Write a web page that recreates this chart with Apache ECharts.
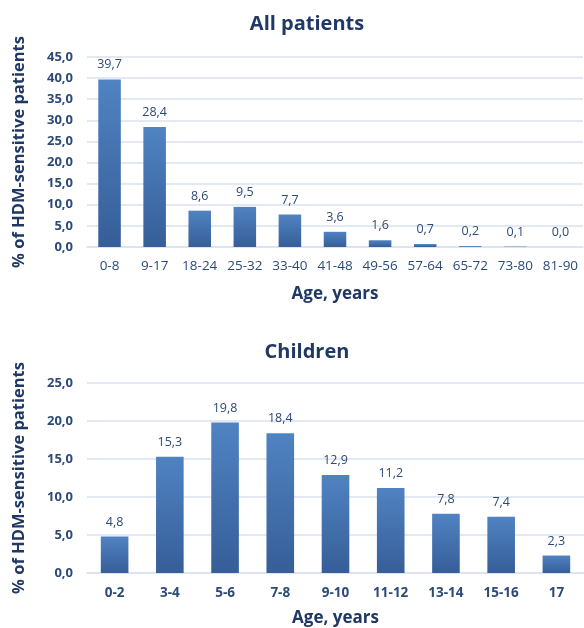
<!DOCTYPE html>
<html><head><meta charset="utf-8">
<script src="https://cdn.jsdelivr.net/npm/echarts@6/dist/echarts.min.js"></script>
<style>html,body{margin:0;padding:0;background:#fff}#c{width:584px;height:628px}</style>
</head><body><div id="c"></div>
<script>
const allCategories = ['0-8','9-17','18-24','25-32','33-40','41-48','49-56','57-64','65-72','73-80','81-90'];
const allValues = [39.7,28.4,8.6,9.5,7.7,3.6,1.6,0.7,0.2,0.1,0.0];
const childCategories = ['0-2','3-4','5-6','7-8','9-10','11-12','13-14','15-16','17'];
const childValues = [4.8,15.3,19.8,18.4,12.9,11.2,7.8,7.4,2.3];
const titles = ['All patients','Children'];
const yAxisName = '% of HDM-sensitive patients';
const xAxisName = 'Age, years';

const FONT = '"Open Sans", sans-serif';
const DARK = '#203864';
const fmt = v => v.toFixed(1).replace('.', ',');
const barColor = new echarts.graphic.LinearGradient(0,0,0,1,[{offset:0,color:'#5083c2'},{offset:1,color:'#365e98'}]);

const chart = echarts.init(document.getElementById('c'));
chart.setOption({
  animation:false,
  textStyle:{fontFamily:FONT},
  title:[
    {text:titles[0], left:302, top:9, textAlign:'center', textStyle:{fontFamily:FONT,fontSize:20,fontWeight:'bold',color:DARK}},
    {text:titles[1], left:302, top:337, textAlign:'center', textStyle:{fontFamily:FONT,fontSize:20,fontWeight:'bold',color:DARK}}
  ],
  grid:[
    {left:87, top:57, width:496, height:190},
    {left:87, top:383, width:503, height:190}
  ],
  xAxis:[
    {gridIndex:0, type:'category', data:allCategories,
     axisLine:{lineStyle:{color:'#d9e2ef',width:1.5}}, axisTick:{show:false},
     axisLabel:{color:'#2b4a78',fontSize:13.5,fontFamily:FONT,margin:12,interval:0},
     name:xAxisName, nameLocation:'middle', nameGap:39,
     nameTextStyle:{color:DARK,fontSize:17,fontWeight:'bold',fontFamily:FONT}},
    {gridIndex:1, type:'category', data:childCategories,
     axisLine:{lineStyle:{color:'#d9e2ef',width:1.5}}, axisTick:{show:false},
     axisLabel:{color:'#2b4a78',fontSize:13.5,fontWeight:'bold',fontFamily:FONT,margin:13,interval:0},
     name:xAxisName, nameLocation:'middle', nameGap:37,
     nameTextStyle:{color:DARK,fontSize:17,fontWeight:'bold',fontFamily:FONT}}
  ],
  yAxis:[
    {gridIndex:0, type:'value', min:0, max:45, interval:5,
     axisLine:{show:false}, axisTick:{show:false},
     splitLine:{lineStyle:{color:'#d9e2ef',width:1.5}},
     axisLabel:{formatter:fmt,color:'#2b4a78',fontSize:13,fontWeight:'bold',fontFamily:FONT,margin:14},
     name:yAxisName, nameLocation:'middle', nameGap:59,
     nameTextStyle:{color:DARK,fontSize:16.5,fontWeight:'bold',fontFamily:FONT}},
    {gridIndex:1, type:'value', min:0, max:25, interval:5,
     axisLine:{show:false}, axisTick:{show:false},
     splitLine:{lineStyle:{color:'#d9e2ef',width:1.5}},
     axisLabel:{formatter:fmt,color:'#2b4a78',fontSize:13,fontWeight:'bold',fontFamily:FONT,margin:14},
     name:yAxisName, nameLocation:'middle', nameGap:59,
     nameTextStyle:{color:DARK,fontSize:16.5,fontWeight:'bold',fontFamily:FONT}}
  ],
  series:[
    {type:'bar', xAxisIndex:0, yAxisIndex:0, data:allValues, barWidth:'50%',
     itemStyle:{color:barColor},
     label:{show:true, position:'top', distance:8, formatter:p=>fmt(p.value), color:'#2b4a78', fontSize:12.5, fontFamily:FONT}},
    {type:'bar', xAxisIndex:1, yAxisIndex:1, data:childValues, barWidth:'50%',
     itemStyle:{color:barColor},
     label:{show:true, position:'top', distance:8, formatter:p=>fmt(p.value), color:'#2b4a78', fontSize:12.5, fontFamily:FONT}}
  ]
});
</script></body></html>
